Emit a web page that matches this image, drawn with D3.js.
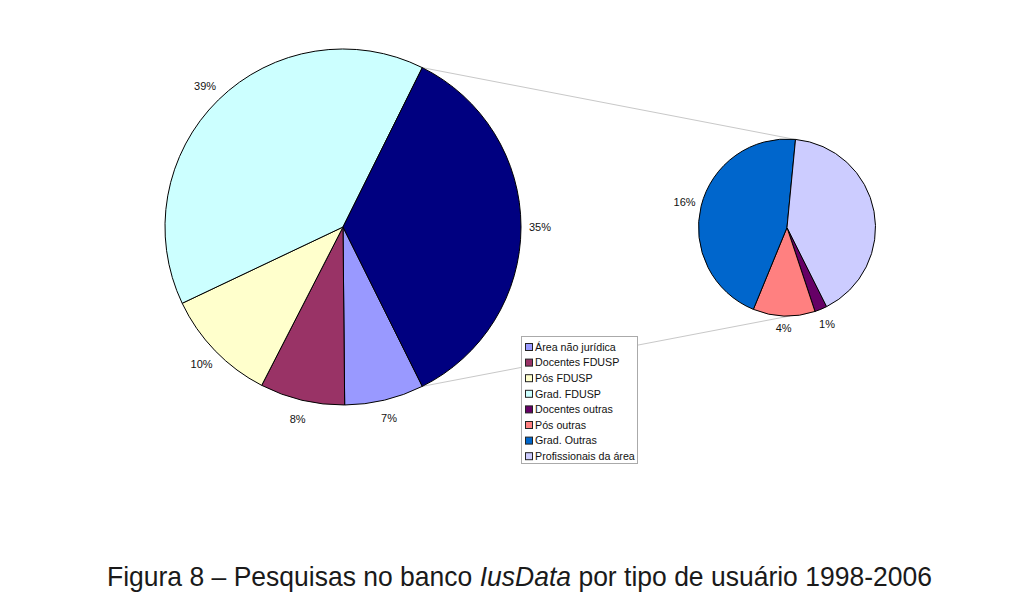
<!DOCTYPE html>
<html><head><meta charset="utf-8">
<script src="https://cdn.jsdelivr.net/npm/d3@7"></script>
<style>body{margin:0;background:#fff}svg{display:block}</style>
</head><body>
<svg id="c" width="1024" height="613"></svg>
<script>
// Main pie data
const mainCategories = ["Área não jurídica", "Docentes FDUSP", "Pós FDUSP", "Grad. FDUSP", "Outras"];
const mainValues = [7.2, 7.7, 10.4, 39.4, 35.3];
const mainColors = ["#9999FF", "#993366", "#FFFFCC", "#CCFFFF", "#000080"];
// Secondary pie data (breakdown of "Outras")
const subCategories = ["Docentes outras", "Pós outras", "Grad. Outras", "Profissionais da área"];
const subValues = [0.8, 4.0, 16.0, 14.5];
const subColors = ["#660066", "#FF8080", "#0066CC", "#CCCCFF"];
const subShowLabel = [true, true, true, false];
const legendLabels = ["Área não jurídica", "Docentes FDUSP", "Pós FDUSP", "Grad. FDUSP", "Docentes outras", "Pós outras", "Grad. Outras", "Profissionais da área"];
const legendColors = ["#9999FF", "#993366", "#FFFFCC", "#CCFFFF", "#660066", "#FF8080", "#0066CC", "#CCCCFF"];
const captionParts = ["Figura 8 – Pesquisas no banco ", "IusData", " por tipo de usuário 1998-2006"];
const captionItalic = [false, true, false];

const svg = d3.select("#c");
const deg = Math.PI / 180;
const total = d3.sum(mainValues);
const fmt = v => Math.round(v / total * 100) + "%";

const C1 = {x: 343, y: 227, r: 178};
const C2 = {x: 787, y: 227.5, r: 88.5};

const otherShare = mainValues[4] / total * 360;
const mainStart = (90 + otherShare / 2) * deg;
const mainPie = d3.pie().sort(null).value(d => d).startAngle(mainStart).endAngle(mainStart + 2 * Math.PI);
const mainArcs = mainPie(mainValues);

const subStart = 153.4 * deg;
const subPie = d3.pie().sort(null).value(d => d).startAngle(subStart).endAngle(subStart + 2 * Math.PI);
const subArcs = subPie(subValues);

const pt = (c, a, r) => [c.x + r * Math.sin(a), c.y - r * Math.cos(a)];

// connector lines
const oth = mainArcs[4];
const lines = [
  [pt(C1, oth.startAngle, C1.r), pt(C2, 5 * deg, C2.r)],
  [pt(C1, oth.endAngle, C1.r), pt(C2, 178 * deg, C2.r)]
];
svg.selectAll("line.conn").data(lines).join("line").attr("class", "conn")
  .attr("x1", d => d[0][0]).attr("y1", d => d[0][1])
  .attr("x2", d => d[1][0]).attr("y2", d => d[1][1])
  .attr("stroke", "#c8c8c8").attr("stroke-width", 1);

const arc1 = d3.arc().innerRadius(0).outerRadius(C1.r);
const g1 = svg.append("g").attr("transform", `translate(${C1.x},${C1.y})`);
g1.selectAll("path").data(mainArcs).join("path")
  .attr("d", arc1).attr("fill", (d, i) => mainColors[i])
  .attr("stroke", "#000").attr("stroke-width", 1).attr("stroke-linejoin", "round");
g1.selectAll("text").data(mainArcs).join("text")
  .attr("x", d => (C1.r + 19) * Math.sin((d.startAngle + d.endAngle) / 2))
  .attr("y", d => -(C1.r + 19) * Math.cos((d.startAngle + d.endAngle) / 2))
  .attr("text-anchor", "middle").attr("dy", "0.35em")
  .attr("font-family", "Liberation Sans, Arial, sans-serif").attr("font-size", 11).attr("fill", "#111")
  .text(d => fmt(d.data));

const arc2 = d3.arc().innerRadius(0).outerRadius(C2.r);
const g2 = svg.append("g").attr("transform", `translate(${C2.x},${C2.y})`);
g2.selectAll("path").data(subArcs).join("path")
  .attr("d", arc2).attr("fill", (d, i) => subColors[i])
  .attr("stroke", "#000").attr("stroke-width", 1).attr("stroke-linejoin", "round");
const subOff = [16, 12, 17, 10];
g2.selectAll("text").data(subArcs.filter((d, i) => subShowLabel[i])).join("text")
  .attr("x", d => (C2.r + subOff[d.index]) * Math.sin((d.startAngle + d.endAngle) / 2))
  .attr("y", d => -(C2.r + subOff[d.index]) * Math.cos((d.startAngle + d.endAngle) / 2))
  .attr("text-anchor", "middle").attr("dy", "0.35em")
  .attr("font-family", "Liberation Sans, Arial, sans-serif").attr("font-size", 11).attr("fill", "#111")
  .text(d => fmt(d.data));

// Legend
const lg = svg.append("g").attr("transform", "translate(521,336)");
lg.append("rect").attr("x", 0.5).attr("y", 0.5).attr("width", 116).attr("height", 127)
  .attr("fill", "#fff").attr("stroke", "#aaa");
const items = lg.selectAll("g.it").data(legendLabels).join("g").attr("class", "it")
  .attr("transform", (d, i) => `translate(4,${11 + i * 15.6})`);
items.append("rect").attr("x", 0.5).attr("y", -3.5).attr("width", 7).attr("height", 7)
  .attr("fill", (d, i) => legendColors[i]).attr("stroke", "#222").attr("stroke-width", 1);
items.append("text").attr("x", 10).attr("y", 0).attr("dy", "0.35em")
  .attr("font-family", "Liberation Sans, Arial, sans-serif").attr("font-size", 10.7).attr("fill", "#111")
  .text(d => d);

// Caption: separate text pieces laid out side by side, then scaled to the target width
const capG = svg.append("g");
const capTexts = capG.selectAll("text").data(captionParts).join("text")
  .attr("y", 0)
  .attr("font-family", "Liberation Sans, Arial, sans-serif")
  .attr("font-size", 27.5).attr("fill", "#1a1a1a")
  .attr("font-style", (d, i) => captionItalic[i] ? "italic" : "normal")
  .style("white-space", "pre")
  .text(d => d);
let cx = 0;
capTexts.each(function () {
  d3.select(this).attr("x", cx);
  cx += this.getComputedTextLength();
});
const sx = 825 / cx;
capG.attr("transform", `translate(107,586) scale(${sx},1)`);
</script>
</body></html>
